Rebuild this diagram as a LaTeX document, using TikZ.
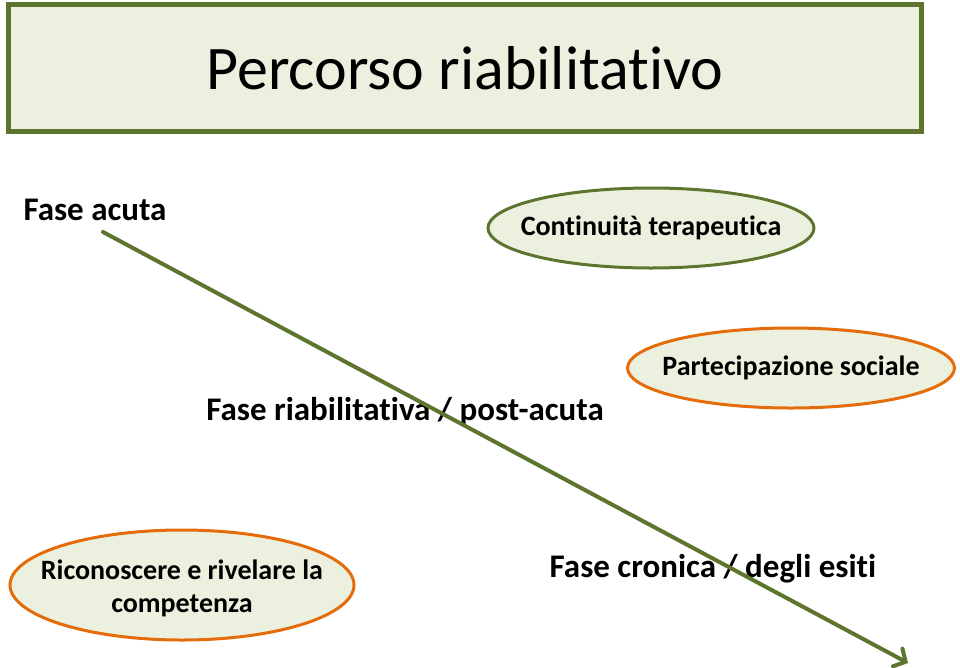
\documentclass[tikz,border=0pt]{standalone}
\usepackage{fontspec}
\setmainfont{Carlito}[Ligatures=NoCommon]
\usetikzlibrary{shapes.geometric,arrows.meta}

\definecolor{olivebd}{RGB}{94,117,48}
\definecolor{orangebd}{RGB}{228,108,10}
\definecolor{palefill}{RGB}{235,241,222}

\begin{document}
\begin{tikzpicture}[x=1pt,y=-1pt,
    oval/.style={ellipse, draw, line width=3pt, fill=palefill, inner sep=0pt},
    ovaltext/.style={font=\fontsize{28}{33}\selectfont\bfseries, align=center},
    label/.style={font=\fontsize{33}{40}\selectfont\bfseries, anchor=base}]

\useasboundingbox (0,0) rectangle (960,667);

% Title
\node[draw=olivebd, line width=4.5pt, fill=palefill, minimum width=913pt, minimum height=127pt,
      font=\fontsize{62}{70}\selectfont] (title) at (465,68) {Percorso riabilitativo};

% Phases
\node[label] (acuta) at (95,220) {Fase acuta};
\node[label] (riab) at (405,420) {Fase riabilitativa / post-acuta};
\node[label] (cronica) at (713,577) {Fase cronica / degli esiti};

% Ovals
\node[oval, draw=olivebd, minimum width=326pt, minimum height=80pt] (continuita) at (651,228) {};
\node[ovaltext] (continuitatxt) at (continuita) {Continuità terapeutica};
\node[oval, draw=orangebd, minimum width=327pt, minimum height=80pt] (partecip) at (791,368) {};
\node[ovaltext] (partecitxt) at (partecip) {Partecipazione sociale};
\node[oval, draw=orangebd, minimum width=344pt, minimum height=110pt] (ricon) at (182,585) {};
\node[ovaltext] (ricontxt) at ([yshift=-3pt]ricon.center) {Riconoscere e rivelare la\\competenza};

% Arrow
\coordinate (start) at (103,232);
\coordinate (end) at (908,663);
\draw[olivebd, line width=4pt, line cap=round, -{Straight Barb[length=9pt,width=20pt,line cap=round]}] (start) -- (end);

\end{tikzpicture}
\end{document}
